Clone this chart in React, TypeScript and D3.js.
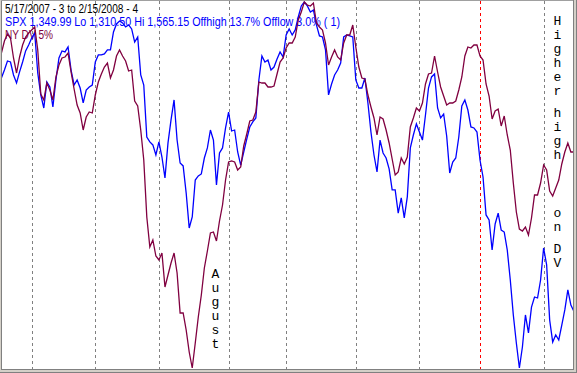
import React from "react";
import * as d3 from "d3";

const W = 577;
const H = 373;

// S&P 500 daily closes, 5/17/2007 .. 2/15/2008
const spx: number[] = [
  1512.3, 1517.8, 1524.1, 1523.4, 1514.4, 1508.8, 1516.5, 1523.4, 1531.1, 1535.2,
  1540.1, 1543.6, 1515.8, 1500.5, 1491.4, 1509.5, 1506.0, 1492.1, 1510.9, 1526.2,
  1531.1, 1530.4, 1533.9, 1517.8, 1507.4, 1510.9, 1505.3, 1494.9, 1503.9, 1506.0,
  1507.4, 1523.4, 1528.3, 1528.3, 1529.0, 1531.8, 1531.8, 1544.3, 1549.9, 1551.9,
  1550.6, 1547.8, 1549.2, 1546.4, 1537.3, 1540.8, 1514.4, 1507.4, 1471.2, 1467.8,
  1465.7, 1458.7, 1467.8, 1457.3, 1442.7, 1467.1, 1483.1, 1497.0, 1469.1, 1453.1,
  1451.1, 1432.3, 1407.9, 1415.6, 1441.3, 1444.1, 1445.5, 1456.6, 1463.6, 1476.1,
  1469.1, 1437.8, 1460.1, 1463.6, 1477.5, 1488.6, 1475.4, 1476.1, 1460.8, 1451.7,
  1460.8, 1469.8, 1478.2, 1481.7, 1484.5, 1510.9, 1527.6, 1523.4, 1524.8, 1517.8,
  1519.9, 1525.5, 1530.4, 1526.9, 1542.2, 1546.4, 1542.2, 1545.7, 1554.7, 1562.4,
  1565.15, 1562.4, 1558.2, 1559.6, 1549.2, 1541.5, 1540.8, 1531.8, 1500.5, 1508.1,
  1514.4, 1517.8, 1522.7, 1540.8, 1542.2, 1541.5, 1540.8, 1510.9, 1505.3, 1505.3,
  1512.3, 1494.9, 1474.7, 1458.7, 1446.9, 1469.1, 1460.1, 1456.6, 1449.0, 1434.4,
  1434.4, 1418.3, 1428.8, 1414.9, 1429.5, 1463.6, 1472.6, 1480.3, 1474.7, 1469.1,
  1486.5, 1505.3, 1513.0, 1515.1, 1491.4, 1484.5, 1487.2, 1471.9, 1446.2, 1453.8,
  1456.6, 1471.2, 1492.8, 1497.0, 1490.0, 1478.2, 1477.5, 1474.7, 1455.2, 1443.4,
  1417.0, 1413.5, 1392.6, 1410.7, 1418.3, 1406.5, 1405.1, 1392.6, 1371.7, 1347.4,
  1327.9, 1310.5, 1325.1, 1347.4, 1334.9, 1352.9, 1359.9, 1359.2, 1371.7, 1394.0,
  1382.2, 1343.9, 1328.6, 1333.5, 1330.0, 1340.4, 1350.9, 1364.8, 1354.3, 1349.99,
];

// NY DV indicator (relative units)
const nyDv: number[] = [
  315, 327, 334, 330, 310, 295, 311, 323, 331, 335,
  338, 341, 318, 274, 268, 285, 278, 268, 291, 303,
  310, 311, 315, 296, 279, 263, 255, 238, 251, 256,
  255, 273, 286, 294, 301, 305, 290, 298, 312, 318,
  312, 307, 297, 298, 267, 262, 238, 208, 151, 121,
  128, 112, 108, 115, 81, 93, 105, 115, 95, 55,
  55, 38, 16, 0, 25, 51, 73, 100, 117, 135,
  136, 127, 147, 163, 188, 206, 207, 206, 198, 201,
  222, 234, 247, 248, 256, 286, 285, 285, 281, 281,
  282, 294, 306, 310, 320, 325, 325, 331, 348, 356,
  366, 363, 362, 365, 345, 341, 338, 325, 303, 311,
  318, 311, 308, 325, 333, 333, 343, 321, 301, 290,
  289, 273, 261, 250, 233, 251, 249, 238, 225, 209,
  193, 196, 210, 204, 211, 241, 250, 260, 257, 265,
  284, 294, 295, 312, 296, 281, 272, 263, 265, 265,
  267, 278, 291, 312, 321, 320, 323, 323, 312, 308,
  284, 272, 249, 257, 259, 242, 252, 233, 218, 185,
  156, 139, 137, 141, 133, 150, 173, 173, 185, 203,
  198, 177, 172, 180, 188, 204, 216, 225, 216, 216,
];

// trading-day index of each month's first session (Jun 07 .. Feb 08)
const monthStarts: number[] = [10, 31, 52, 75, 94, 117, 138, 158, 179];
const yearStartIndex = 158;

const headerLines: string[] = [
  "5/17/2007 - 3 to 2/15/2008 - 4",
  "SPX 1,349.99 Lo 1,310.50 Hi 1,565.15  Offhigh 13.7%  Offlow 3.0% ( 1)",
  "NY DV 5%",
];

const noteWords: string[] = ["August", "Higher", "high", "on", "DV"];

// layout (not data)
const PLOT = { left: 2, top: 1, right: 573, bottom: 369 };
const headerLayout = [
  { x: 5, y: 12.5, len: 133, color: "#000000" },
  { x: 5, y: 25.5, len: 335, color: "#0000ff" },
  { x: 5, y: 38.5, len: 48, color: "#800040" },
];
const noteLayout = [
  { x: 215.5, y: 278 },
  { x: 557.5, y: 25 },
  { x: 557.5, y: 117 },
  { x: 557.5, y: 217 },
  { x: 557.5, y: 253 },
];
const LETTER_STEP = 14;

export default function App() {
  const x = d3.scaleLinear().domain([0, spx.length - 1]).range([1.4, 573.9]);
  const ySpx = d3
    .scaleLinear()
    .domain(d3.extent(spx) as [number, number])
    .range([368, 2]);
  const yDv = d3
    .scaleLinear()
    .domain(d3.extent(nyDv) as [number, number])
    .range([368, 2]);

  const spxLine = d3
    .line<number>()
    .x((_, i) => x(i))
    .y((d) => ySpx(d));
  const dvLine = d3
    .line<number>()
    .x((_, i) => x(i))
    .y((d) => yDv(d));

  return (
    <svg
      width={W}
      height={H}
      style={{ position: "absolute", left: 0, top: 0, display: "block" }}
    >
      <defs>
        <clipPath id="plotclip">
          <rect
            x={PLOT.left}
            y={PLOT.top}
            width={PLOT.right - PLOT.left}
            height={PLOT.bottom - PLOT.top}
          />
        </clipPath>
      </defs>
      <rect x={0} y={0} width={W} height={H} fill="#d4d0c8" />
      <rect
        x={PLOT.left}
        y={PLOT.top}
        width={PLOT.right - PLOT.left}
        height={PLOT.bottom - PLOT.top}
        fill="#ffffff"
      />
      <line x1={1.5} y1={0} x2={1.5} y2={370} stroke="#808080" />
      <line x1={1} y1={0.5} x2={574} y2={0.5} stroke="#a0a0a0" />
      <line x1={573.5} y1={0} x2={573.5} y2={370} stroke="#808080" />
      <line x1={1} y1={369.5} x2={574} y2={369.5} stroke="#808080" />
      <line x1={576.5} y1={0} x2={576.5} y2={373} stroke="#808080" />
      <line x1={0} y1={372.5} x2={577} y2={372.5} stroke="#808080" />

      <g clipPath="url(#plotclip)">
        {monthStarts.map((m) => {
          const px = Math.round(x(m)) + 0.5;
          return (
            <line
              key={m}
              x1={px}
              x2={px}
              y1={PLOT.top}
              y2={PLOT.bottom}
              stroke={m === yearStartIndex ? "#ff0000" : "#808080"}
              strokeDasharray="3,3"
              strokeWidth={1}
            />
          );
        })}

        {headerLines.map((t, i) => (
          <text
            key={i}
            x={headerLayout[i].x}
            y={headerLayout[i].y}
            fill={headerLayout[i].color}
            fontFamily="'Liberation Sans', Arial, sans-serif"
            fontSize={12}
            textLength={headerLayout[i].len}
            lengthAdjust="spacingAndGlyphs"
          >
            {t}
          </text>
        ))}

        {noteWords.map((w, wi) =>
          w.split("").map((ch, ci) => (
            <text
              key={wi + "-" + ci}
              x={noteLayout[wi].x}
              y={noteLayout[wi].y + ci * LETTER_STEP}
              textAnchor="middle"
              fill="#000000"
              fontFamily="'Liberation Mono', 'DejaVu Sans Mono', monospace"
              fontSize={13}
            >
              {ch}
            </text>
          ))
        )}

        <path d={spxLine(spx) || ""} fill="none" stroke="#0000ff" strokeWidth={1.3} />
        <path d={dvLine(nyDv) || ""} fill="none" stroke="#800040" strokeWidth={1.3} />
      </g>
    </svg>
  );
}
